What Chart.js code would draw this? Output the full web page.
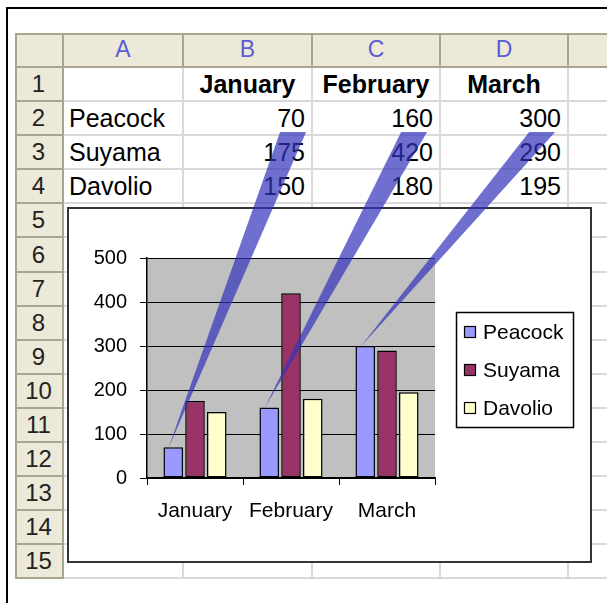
<!DOCTYPE html>
<html>
<head>
<meta charset="utf-8">
<script src="https://cdn.jsdelivr.net/npm/chart.js@4.4.0/dist/chart.umd.min.js"></script>
<style>
  html, body { margin: 0; padding: 0; background: #fff; }
  body { width: 607px; height: 603px; position: relative; overflow: hidden; font-family: "Liberation Sans", Arial, sans-serif; }
  .frame { position: absolute; left: 6px; top: 7px; width: 700px; height: 700px; border-left: 2px solid #000; border-top: 2px solid #000; }
  .cell { position: absolute; box-sizing: border-box; border-right: 2px solid #d9d9d9; border-bottom: 2px solid #d9d9d9; font-size: 25px; white-space: nowrap; overflow: hidden; color: #000; display: flex; align-items: center; }
  .hdr { background: #ece9d8; border-color: #a8a58f; justify-content: center; }
  .colhdr { color: #5c5cd6; font-size: 23px; }
  .rowhdr { font-size: 24px; color: #222; }
  .num { justify-content: flex-end; padding-right: 6px; }
  .txt { padding-left: 5px; }
  .bold { font-weight: bold; justify-content: center; }
  #gridTop { position: absolute; left: 15px; top: 33px; width: 600px; height: 2px; background: #a8a58f; }
  #gridLeft { position: absolute; left: 15px; top: 33px; width: 2px; height: 546px; background: #a8a58f; }
  #chartBox { position: absolute; left: 67px; top: 207px; width: 525px; height: 356px; box-sizing: border-box; border: 2px solid #333; background: #fff; }
  #overlay { position: absolute; left: 0; top: 0; pointer-events: none; }
</style>
</head>
<body>
<div class="frame"></div>
<div id="sheet"></div>
<div id="gridTop"></div>
<div id="gridLeft"></div>
<div id="chartBox"><canvas id="chart" width="521" height="352"></canvas></div>
<canvas id="overlay" width="607" height="603"></canvas>
<script>
  // data
  const months = ["January", "February", "March"];
  const names = ["Peacock", "Suyama", "Davolio"];
  const peacock = [70, 160, 300];
  const suyama = [175, 420, 290];
  const davolio = [150, 180, 195];
  const yMax = 500;
  const yStep = 100;
  const colLetters = ["A", "B", "C", "D", ""];
  const rowCount = 15;

  const colors = ["#9999ff", "#993366", "#ffffcc"];

  // sheet layout
  const colEdges = [15, 64, 184, 313, 441, 569, 660];
  const rowEdges = [33, 68, 102, 136, 170, 204, 238, 273, 307, 341, 375, 409, 443, 477, 511, 545, 579];

  const sheet = document.getElementById("sheet");

  function addCell(r, c, text, cls) {
    const d = document.createElement("div");
    d.className = "cell " + cls;
    d.style.left = colEdges[c] + "px";
    d.style.top = rowEdges[r] + "px";
    d.style.width = (colEdges[c + 1] - colEdges[c]) + "px";
    d.style.height = (rowEdges[r + 1] - rowEdges[r]) + "px";
    const s = document.createElement("span");
    s.textContent = text;
    d.appendChild(s);
    d.id = "c-" + r + "-" + c;
    sheet.appendChild(d);
    return d;
  }

  const series = [peacock, suyama, davolio];
  addCell(0, 0, "", "hdr");
  colLetters.forEach((l, i) => addCell(0, i + 1, l, "hdr colhdr"));
  for (let r = 1; r <= rowCount; r++) {
    addCell(r, 0, String(r), "hdr rowhdr");
    for (let c = 1; c <= 5; c++) {
      let text = "";
      let cls = "";
      if (r === 1 && c >= 2 && c <= 4) {
        text = months[c - 2];
        cls = "bold";
      } else if (r >= 2 && r <= 4) {
        if (c === 1) {
          text = names[r - 2];
          cls = "txt";
        } else if (c <= 4) {
          text = String(series[r - 2][c - 2]);
          cls = "num";
        }
      }
      addCell(r, c, text, cls);
    }
  }

  Chart.defaults.font.family = '"Liberation Sans", Arial, sans-serif';
  Chart.defaults.color = "#000";

  const plotBg = {
    id: "plotBg",
    beforeDraw(chart) {
      const a = chart.chartArea;
      const ctx = chart.ctx;
      ctx.save();
      ctx.fillStyle = "#c0c0c0";
      ctx.fillRect(a.left, a.top, a.right - a.left, a.bottom - a.top);
      ctx.restore();
    }
  };

  const legendBox = {
    id: "legendBox",
    afterDraw(chart) {
      const ctx = chart.ctx;
      const a = chart.chartArea;
      const left = a.right + 21;
      const top = 103;
      ctx.save();
      ctx.strokeStyle = "#000";
      ctx.lineWidth = 1.5;
      ctx.strokeRect(left + 0.5, top + 0.5, 117, 115);
      ctx.font = '21px "Liberation Sans", Arial, sans-serif';
      ctx.textBaseline = "middle";
      chart.data.datasets.forEach((ds, i) => {
        const y = top + 20 + i * 38;
        ctx.fillStyle = ds.backgroundColor;
        ctx.fillRect(left + 8, y - 6, 12, 12);
        ctx.lineWidth = 1.2;
        ctx.strokeRect(left + 8.5, y - 5.5, 11, 11);
        ctx.fillStyle = "#000";
        ctx.fillText(ds.label, left + 27, y + 1);
      });
      ctx.restore();
    }
  };

  function drawWedges(chart) {
    const ov = document.getElementById("overlay");
    const octx = ov.getContext("2d");
    octx.clearRect(0, 0, ov.width, ov.height);
    const cr = chart.canvas.getBoundingClientRect();
    const meta = chart.getDatasetMeta(0);
    octx.fillStyle = "rgba(50, 50, 188, 0.7)";
    meta.data.forEach((bar, i) => {
      const cell = document.getElementById("c-2-" + (i + 2));
      const span = cell.querySelector("span").getBoundingClientRect();
      const baseY = cell.getBoundingClientRect().bottom - 4;
      const cx = (span.left + span.right) / 2 + 2;
      const tipX = cr.left + bar.x - bar.width * 0.25;
      const tipY = cr.top + bar.y + 1;
      octx.beginPath();
      octx.moveTo(cx - 13, baseY);
      octx.lineTo(cx + 13, baseY);
      octx.lineTo(tipX, tipY);
      octx.closePath();
      octx.fill();
    });
  }

  const wedges = {
    id: "wedges",
    afterRender(chart) {
      drawWedges(chart);
    }
  };

  new Chart(document.getElementById("chart"), {
    type: "bar",
    data: {
      labels: months,
      datasets: names.map((n, i) => ({
        label: n,
        data: series[i],
        backgroundColor: colors[i]
      }))
    },
    options: {
      responsive: false,
      animation: false,
      layout: { padding: { left: 0, top: 49, right: 155, bottom: 0 } },
      plugins: {
        legend: { display: false },
        tooltip: { enabled: false }
      },
      datasets: {
        bar: {
          borderColor: "#000",
          borderWidth: 1.5,
          borderSkipped: false,
          categoryPercentage: 0.68,
          barPercentage: 0.9
        }
      },
      scales: {
        x: {
          grid: { drawOnChartArea: false, drawTicks: true, tickLength: 7, color: "#000", offset: true },
          border: { color: "#000", width: 1.5 },
          ticks: { color: "#000", font: { size: 21 }, padding: 14, maxRotation: 0 },
          afterFit: (s) => { s.height = 83; }
        },
        y: {
          min: 0,
          max: yMax,
          ticks: { stepSize: yStep, color: "#000", font: { size: 20 }, padding: 13 },
          grid: { color: "#000", lineWidth: 1, tickLength: 7 },
          border: { color: "#000", width: 1.5 },
          afterFit: (s) => { s.width = 78; }
        }
      }
    },
    plugins: [plotBg, legendBox, wedges]
  });
</script>
</body>
</html>
